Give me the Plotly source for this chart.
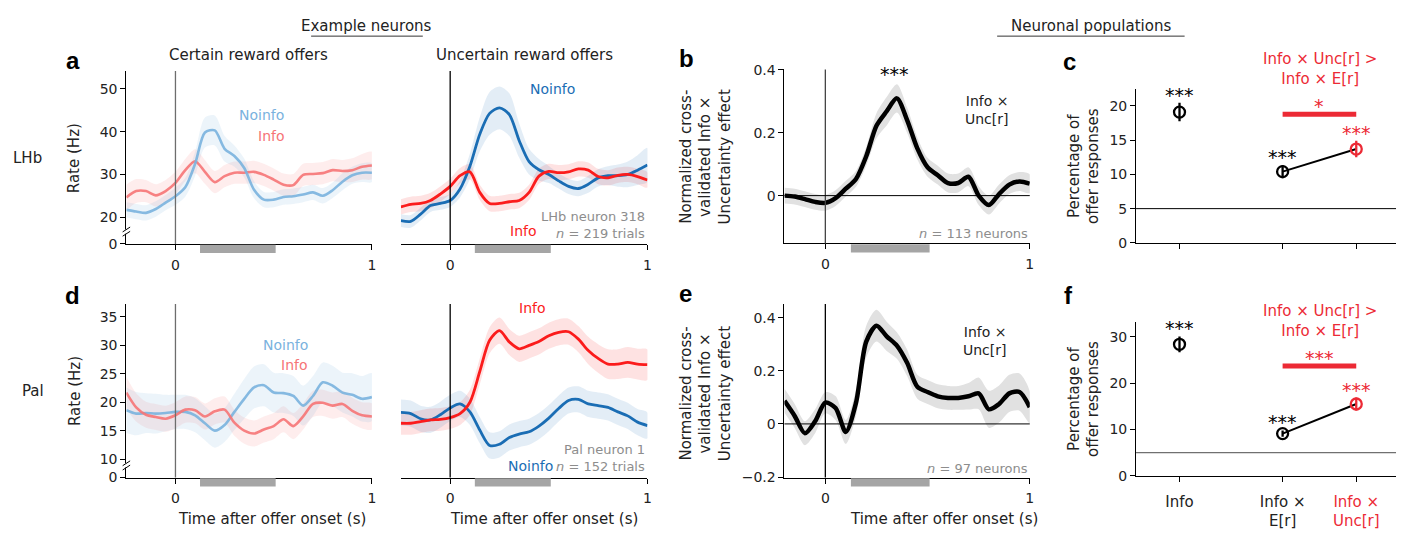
import plotly.graph_objects as go

W, H = 1406, 536
FONT = "DejaVu Sans"

# ---------------- data ----------------
TIME = [-0.25, -0.2, -0.15, -0.1, -0.05, 0.0, 0.05, 0.1, 0.15, 0.2, 0.25, 0.3, 0.35,
        0.4, 0.45, 0.5, 0.55, 0.6, 0.65, 0.7, 0.75, 0.8, 0.85, 0.9, 0.95, 1.0]
TIME_POP = [-0.2, -0.15, -0.1, -0.05, 0.0, 0.05, 0.1, 0.15, 0.2, 0.25, 0.3, 0.35,
            0.4, 0.45, 0.5, 0.55, 0.6, 0.65, 0.7, 0.75, 0.8, 0.85, 0.9, 0.95, 1.0]

# LHb neuron 318, certain reward offers
lhb_cert_noinfo = [21.7, 21.3, 21.0, 21.9, 23.4, 24.9, 27.0, 32.5, 39.8, 40.3, 36.0, 34.3, 31.5,
                   26.4, 24.1, 24.1, 24.7, 24.9, 25.3, 25.8, 25.0, 26.3, 28.3, 29.8, 30.4, 30.4]
lhb_cert_noinfo_sem = [1.8, 1.8, 1.8, 1.8, 1.8, 2.0, 2.2, 2.8, 3.5, 3.5, 3.0, 2.5, 2.2,
                       2.0, 1.8, 1.8, 1.8, 1.8, 1.8, 1.8, 1.8, 1.8, 2.0, 2.0, 2.2, 2.2]
lhb_cert_info = [24.6, 26.1, 26.1, 25.1, 26.1, 28.0, 31.0, 33.1, 30.6, 28.2, 29.6, 30.4, 30.4,
                 30.6, 29.9, 28.8, 27.6, 27.5, 29.9, 30.1, 30.3, 31.0, 30.8, 31.0, 31.8, 32.1]
lhb_cert_info_sem = [3.0, 2.8, 2.6, 2.6, 2.6, 2.6, 2.6, 2.8, 2.8, 2.6, 2.6, 2.6, 2.6,
                     2.6, 2.6, 2.6, 2.6, 2.6, 2.6, 2.6, 2.6, 2.6, 2.6, 2.8, 3.0, 3.2]

# LHb neuron 318, uncertain reward offers
lhb_unc_noinfo = [19.2, 19.0, 20.7, 22.7, 23.2, 23.9, 26.6, 31.9, 39.4, 44.3, 45.6, 44.0, 37.9,
                  33.0, 31.1, 30.0, 28.5, 27.2, 26.7, 27.7, 29.2, 29.7, 29.7, 30.0, 31.0, 32.2]
lhb_unc_noinfo_sem = [1.5, 1.5, 1.5, 1.5, 1.5, 1.5, 2.0, 3.0, 4.0, 5.0, 5.0, 5.0, 4.0,
                      3.0, 2.5, 2.0, 1.8, 1.8, 1.8, 2.0, 2.0, 2.2, 2.6, 3.0, 3.5, 4.0]
lhb_unc_info = [22.4, 23.0, 23.2, 23.9, 25.4, 27.2, 29.7, 30.6, 25.8, 23.2, 23.2, 23.6, 23.9,
                25.8, 29.6, 30.7, 30.4, 30.6, 31.3, 31.0, 29.5, 29.2, 29.8, 30.0, 29.5, 28.7]
lhb_unc_info_sem = [1.8] * 26

# LHb population (Info x Unc[r])
lhb_pop = [0.0, -0.003, -0.011, -0.02, -0.023, -0.008, 0.022, 0.053, 0.125, 0.222, 0.268, 0.309,
           0.24, 0.15, 0.09, 0.065, 0.04, 0.04, 0.06, 0.0, -0.03, 0.005, 0.035, 0.045, 0.038]
lhb_pop_sem = [0.025, 0.025, 0.025, 0.025, 0.025, 0.025, 0.025, 0.025, 0.03, 0.04, 0.045, 0.045,
               0.04, 0.035, 0.03, 0.03, 0.03, 0.03, 0.03, 0.03, 0.03, 0.03, 0.03, 0.03, 0.03]

# Pal neuron 1, certain reward offers
pal_cert_noinfo = [18.6, 18.0, 18.1, 18.0, 18.1, 18.3, 18.3, 17.7, 16.3, 15.0, 16.0, 18.3, 20.6,
                   22.6, 23.0, 21.7, 21.6, 21.1, 19.4, 21.1, 23.5, 22.9, 21.7, 21.3, 20.6, 20.9]
pal_cert_noinfo_sem = [4.0, 3.8, 3.5, 3.5, 3.2, 3.0, 3.0, 3.0, 3.0, 3.0, 3.0, 3.2, 3.5,
                       3.7, 3.7, 3.5, 3.5, 3.5, 3.5, 3.5, 3.5, 3.5, 3.5, 3.8, 4.0, 4.2]
pal_cert_info = [21.7, 19.1, 17.8, 17.4, 17.1, 17.7, 18.7, 18.6, 17.5, 18.4, 18.7, 16.4, 15.0,
                 14.5, 15.2, 15.8, 17.0, 15.8, 17.5, 19.7, 19.9, 19.4, 19.7, 18.5, 17.7, 17.5]
pal_cert_info_sem = [2.8, 2.5, 2.3, 2.3, 2.3, 2.3, 2.3, 2.3, 2.3, 2.3, 2.3, 2.3, 2.3,
                     2.3, 2.3, 2.3, 2.3, 2.3, 2.3, 2.3, 2.3, 2.3, 2.3, 2.3, 2.3, 2.3]

# Pal neuron 1, uncertain reward offers
pal_unc_info = [16.3, 16.3, 16.6, 16.9, 17.0, 17.3, 18.0, 20.0, 25.4, 30.9, 32.6, 30.6, 29.4,
                30.0, 30.7, 31.7, 32.3, 32.4, 31.1, 29.1, 27.7, 26.7, 26.7, 27.0, 26.7, 26.6]
pal_unc_info_sem = [2.0, 2.0, 2.0, 2.0, 2.0, 2.0, 2.0, 2.2, 2.3, 2.3, 2.3, 2.3, 2.3,
                    2.3, 2.3, 2.3, 2.3, 2.3, 2.3, 2.4, 2.5, 2.6, 2.6, 2.7, 2.7, 2.7]
pal_unc_noinfo = [18.2, 18.0, 17.1, 16.9, 17.8, 19.0, 19.7, 18.3, 15.1, 12.4, 12.6, 13.8, 14.4,
                  14.8, 15.8, 17.2, 18.9, 20.3, 20.5, 19.7, 19.4, 19.1, 18.3, 17.6, 16.5, 15.9]
pal_unc_noinfo_sem = [2.3] * 26

# Pal population (Info x Unc[r])
pal_pop = [0.087, 0.03, -0.035, 0.01, 0.08, 0.06, -0.03, 0.08, 0.31, 0.37, 0.33, 0.295,
           0.23, 0.14, 0.12, 0.104, 0.098, 0.098, 0.104, 0.115, 0.055, 0.075, 0.115, 0.12, 0.063]
pal_pop_sem = [0.045, 0.045, 0.045, 0.045, 0.04, 0.045, 0.045, 0.05, 0.06, 0.06, 0.055, 0.05,
               0.05, 0.045, 0.045, 0.045, 0.045, 0.045, 0.05, 0.06, 0.07, 0.07, 0.07, 0.07, 0.06]

# Percentages of offer responses
CATEGORIES = ["Info", "Info ×<br>E[r]", "Info ×<br>Unc[r]"]
lhb_pct = [19.1, 10.4, 13.7]
lhb_pct_err = [1.35, 0.95, 1.2]
pal_pct = [28.4, 9.1, 15.5]
pal_pct_err = [1.7, 0.7, 1.4]
CHANCE = 5
EPOCH = [0.125, 0.51]

# ---------------- styles ----------------
LBLUE, LRED = "rgba(122,178,222,0.9)", "rgba(246,116,118,0.9)"
LBLUE_B, LRED_B = "rgba(122,178,222,0.14)", "rgba(246,116,118,0.13)"
DBLUE, RED = "#1a6db4", "#fb1c1c"
DBLUE_B, RED_B = "rgba(26,109,180,0.12)", "rgba(251,28,28,0.13)"
SIGRED = "#ec2a35"
GRAYTXT = "#8d8d8d"
CAT_POS = [0, 1.4, 2.4]
TS = 15      # title size
TK = 14      # tick size
AS = 14      # annotation size
NS = 13      # neuron-count text size
ST = 19      # star size


def px(x):
    return x / W


def py(y):
    return 1 - y / H


fig = go.Figure()


def band(t, m, s, fill, ax):
    up = [a + b for a, b in zip(m, s)]
    lo = [a - b for a, b in zip(m, s)]
    fig.add_trace(go.Scatter(x=t + t[::-1], y=up + lo[::-1], fill="toself", fillcolor=fill,
                             line=dict(width=0, shape="spline", smoothing=0.8), mode="lines",
                             hoverinfo="skip", showlegend=False, xaxis="x" + ax, yaxis="y" + ax))


def line(t, m, color, width, ax):
    fig.add_trace(go.Scatter(x=t, y=m, mode="lines",
                             line=dict(color=color, width=width, shape="spline", smoothing=0.8),
                             showlegend=False, xaxis="x" + ax, yaxis="y" + ax))


# panel a
band(TIME, lhb_cert_info, lhb_cert_info_sem, LRED_B, "")
band(TIME, lhb_cert_noinfo, lhb_cert_noinfo_sem, LBLUE_B, "")
line(TIME, lhb_cert_info, LRED, 2.6, "")
line(TIME, lhb_cert_noinfo, LBLUE, 2.6, "")
band(TIME, lhb_unc_info, lhb_unc_info_sem, RED_B, "2")
band(TIME, lhb_unc_noinfo, lhb_unc_noinfo_sem, DBLUE_B, "2")
line(TIME, lhb_unc_noinfo, DBLUE, 2.8, "2")
line(TIME, lhb_unc_info, RED, 2.8, "2")
# panel b
band(TIME_POP, lhb_pop, lhb_pop_sem, "#e1e1e1", "3")
line(TIME_POP, lhb_pop, "black", 4.5, "3")
# panel d
band(TIME, pal_cert_info, pal_cert_info_sem, LRED_B, "5")
band(TIME, pal_cert_noinfo, pal_cert_noinfo_sem, LBLUE_B, "5")
line(TIME, pal_cert_noinfo, LBLUE, 2.6, "5")
line(TIME, pal_cert_info, LRED, 2.6, "5")
band(TIME, pal_unc_info, pal_unc_info_sem, RED_B, "6")
band(TIME, pal_unc_noinfo, pal_unc_noinfo_sem, DBLUE_B, "6")
line(TIME, pal_unc_noinfo, DBLUE, 2.8, "6")
line(TIME, pal_unc_info, RED, 2.8, "6")
# panel e
band(TIME_POP, pal_pop, pal_pop_sem, "#e1e1e1", "7")
line(TIME_POP, pal_pop, "black", 4.5, "7")


def pct_panel(vals, errs, sig_y, ax):
    fig.add_trace(go.Scatter(x=[CAT_POS[1], CAT_POS[2]], y=[sig_y, sig_y], mode="lines",
                             line=dict(color=SIGRED, width=5), showlegend=False,
                             xaxis="x" + ax, yaxis="y" + ax))
    fig.add_trace(go.Scatter(x=CAT_POS[1:], y=vals[1:], mode="lines",
                             line=dict(color="black", width=2), showlegend=False,
                             xaxis="x" + ax, yaxis="y" + ax))
    cols = ["black", "black", SIGRED]
    for i in range(3):
        fig.add_trace(go.Scatter(x=[CAT_POS[i]], y=[vals[i]], mode="markers",
                                 marker=dict(symbol="circle-open", size=11, color=cols[i],
                                             line=dict(width=2.3, color=cols[i])),
                                 error_y=dict(type="data", array=[errs[i]], color=cols[i],
                                              thickness=2.3, width=0),
                                 showlegend=False, xaxis="x" + ax, yaxis="y" + ax))


pct_panel(lhb_pct, lhb_pct_err, 18.8, "4")
pct_panel(pal_pct, pal_pct_err, 23.7, "8")

# ---------------- axes ----------------
TICKF = dict(family=FONT, size=TK, color="#222")
common = dict(showgrid=False, zeroline=False, showline=True, linecolor="black", linewidth=1,
              ticks="outside", ticklen=5, tickwidth=1, tickcolor="black", tickfont=TICKF)

ROW1 = [py(243.3), py(65)]
ROW2 = [py(484), py(305)]
XA_L = [px(126.7), px(373)]
XA_R = [px(402), px(649.3)]
XB = [px(786.7), px(1032.7)]
XC = [px(1139.3), px(1400)]

lay = {}


def set_axes(n, xdom, ydom, xr, yr, xkw=None, ykw=None):
    s = "" if n == 1 else str(n)
    xa = dict(common, domain=xdom, range=xr, anchor="y" + s)
    ya = dict(common, domain=ydom, range=yr, anchor="x" + s)
    xa.update(xkw or {})
    ya.update(ykw or {})
    lay["xaxis" + s] = xa
    lay["yaxis" + s] = ya


time_x = dict(tickvals=[0, 1], ticktext=["0", "1"], ticklabelstandoff=3)
set_axes(1, XA_L, ROW1, [-0.25, 1.0], [13.7, 54.2], time_x,
         dict(tickvals=[13.72, 20, 30, 40, 50], ticktext=["0", "20", "30", "40", "50"]))
set_axes(2, XA_R, ROW1, [-0.25, 1.0], [13.7, 54.2], time_x, dict(visible=False))
set_axes(3, XB, [py(242.7), py(63.3)], [-0.2, 1.0], [-0.152, 0.401], time_x,
         dict(tickvals=[0, 0.2, 0.4], ticktext=["0", "0.2", "0.4"]))
set_axes(4, XC, [py(242.3), py(83.3)], [-0.59, 2.94], [-0.03, 22.5],
         dict(tickvals=CAT_POS, showticklabels=False),
         dict(tickvals=[0, 5, 10, 15, 20]))
set_axes(5, XA_L, ROW2, [-0.25, 1.0], [6.75, 37.3], time_x,
         dict(tickvals=[6.77, 10, 15, 20, 25, 30, 35],
              ticktext=["0", "10", "15", "20", "25", "30", "35"]))
set_axes(6, XA_R, ROW2, [-0.25, 1.0], [6.75, 37.3], time_x, dict(visible=False))
set_axes(7, XB, ROW2, [-0.2, 1.0], [-0.202, 0.452], time_x,
         dict(tickvals=[-0.2, 0, 0.2, 0.4], ticktext=["−0.2", "0", "0.2", "0.4"]))
cat_text = [CATEGORIES[0], CATEGORIES[1],
            "<span style='color:%s'>Info ×</span><br><span style='color:%s'>Unc[r]</span>" % (SIGRED, SIGRED)]
set_axes(8, XC, [py(482.3), py(323.3)], [-0.59, 2.94], [-0.04, 33.3],
         dict(tickvals=CAT_POS, ticktext=cat_text, ticklabelstandoff=7,
              tickfont=dict(family=FONT, size=TS, color="#222")),
         dict(tickvals=[0, 10, 20, 30]))

# ---------------- shapes ----------------
shapes = []
for s, col in [("", "#6d6d6d"), ("2", "black"), ("3", "#444"), ("5", "#6d6d6d"), ("6", "black"), ("7", "black")]:
    xr = "x" + s
    yr = "y" + s
    shapes.append(dict(type="line", xref=xr, yref=yr + " domain", x0=0, x1=0, y0=0, y1=1,
                       line=dict(color=col, width=1.3)))
    shapes.append(dict(type="rect", xref=xr, yref=yr + " domain", x0=EPOCH[0], x1=EPOCH[1],
                       y0=-0.052, y1=-0.004, fillcolor="#a5a5a5", line=dict(width=0)))
for s in ["3", "7"]:
    shapes.append(dict(type="line", xref="x" + s + " domain", yref="y" + s, x0=0, x1=1, y0=0, y1=0,
                       line=dict(color="black", width=1)))
shapes.append(dict(type="line", xref="x4 domain", yref="y4", x0=0, x1=1, y0=CHANCE, y1=CHANCE,
                   line=dict(color="black", width=1)))
shapes.append(dict(type="line", xref="x8 domain", yref="y8", x0=0, x1=1, y0=CHANCE, y1=CHANCE,
                   line=dict(color="#707070", width=1.2)))
# axis break marks
for yb in [230.5, 471.5]:
    shapes.append(dict(type="rect", xref="paper", yref="paper", x0=px(125), x1=px(128.5),
                       y0=py(yb + 2.2), y1=py(yb - 2.2), fillcolor="white", line=dict(width=0)))
    for dy in (-2.2, 2.2):
        shapes.append(dict(type="line", xref="paper", yref="paper", x0=px(123), x1=px(130.5),
                           y0=py(yb + dy + 2.5), y1=py(yb + dy - 2.5), line=dict(color="black", width=1)))
# header underlines
shapes.append(dict(type="line", xref="paper", yref="paper", x0=px(312), x1=px(424), y0=py(29), y1=py(29),
                   line=dict(color="#333", width=1)))
shapes.append(dict(type="line", xref="paper", yref="paper", x0=px(1000), x1=px(1188), y0=py(29), y1=py(29),
                   line=dict(color="#333", width=1)))

# ---------------- annotations ----------------
ann = []


def T(text, x, y, size=AS, color="#222", xref="paper", yref="paper", xanchor="center",
      yanchor="middle", angle=0, align="center", family=FONT, yshift=0):
    if xref == "paper":
        x = px(x)
    if yref == "paper":
        y = py(y)
    ann.append(dict(text=text, x=x, y=y, xref=xref, yref=yref, xanchor=xanchor, yanchor=yanchor,
                    showarrow=False, textangle=angle, align=align, yshift=yshift,
                    font=dict(family=family, size=size, color=color)))


T("Example neurons", 368, 19, TS)
T("Neuronal populations", 1094, 19, TS)
T("Certain reward offers", 249, 48, TS)
T("Uncertain reward offers", 526, 48, TS)
for lab, x, y in [("a", 73, 54), ("b", 688, 52), ("c", 1073, 55), ("d", 73, 296), ("e", 687, 294), ("f", 1072, 296)]:
    T("<b>%s</b>" % lab, x, y, 24, "black", family="Liberation Sans")
T("LHb", 28, 155, TS)
T("Pal", 33, 395, TS)
T("Rate (Hz)", 75, 155, TS, angle=-90)
T("Rate (Hz)", 75, 395, TS, angle=-90)
T("Normalized cross-<br>validated Info ×<br>Uncertainty effect", 707, 153, TS, angle=-90)
T("Normalized cross-<br>validated Info ×<br>Uncertainty effect", 707, 397, TS, angle=-90)
T("Percentage of<br>offer responses", 1087, 163, TS, angle=-90)
T("Percentage of<br>offer responses", 1087, 403, TS, angle=-90)
T("Time after offer onset (s)", 273, 527, TS)
T("Time after offer onset (s)", 546, 527, TS)
T("Time after offer onset (s)", 947, 527, TS)

# in-panel labels (data coords)
T("Noinfo", 0.44, 44.0, AS, "#7ab2de", "x", "y")
T("Info", 0.49, 38.9, AS, "#f67476", "x", "y")
T("Noinfo", 0.52, 50.0, AS, DBLUE, "x2", "y2")
T("Info", 0.37, 16.8, AS, RED, "x2", "y2")
T("LHb neuron 318", 1.0, 20.2, NS, GRAYTXT, "x2", "y2", xanchor="right")
T("<i>n</i> = 219 trials", 1.0, 16.2, NS, GRAYTXT, "x2", "y2", xanchor="right")
T("***", 0.34, 0.40, ST, "black", "x3", "y3", yshift=-4)
T("Info ×<br>Unc[r]", 0.91, 0.273, AS, "#222", "x3", "y3", xanchor="right", align="right")
T("<i>n</i> = 113 neurons", 1.0, -0.12, NS, GRAYTXT, "x3", "y3", xanchor="right")
T("Noinfo", 0.56, 30.0, AS, "#7ab2de", "x5", "y5")
T("Info", 0.605, 26.6, AS, "#f67476", "x5", "y5")
T("Info", 0.415, 36.6, AS, RED, "x6", "y6")
T("Noinfo", 0.405, 8.7, AS, DBLUE, "x6", "y6")
T("Pal neuron 1", 1.0, 11.7, NS, GRAYTXT, "x6", "y6", xanchor="right")
T("<i>n</i> = 152 trials", 1.0, 8.7, NS, GRAYTXT, "x6", "y6", xanchor="right")
T("***", 0.25, 0.475, ST, "black", "x7", "y7", yshift=-4)
T("Info ×<br>Unc[r]", 0.9, 0.313, AS, "#222", "x7", "y7", xanchor="right", align="right")
T("<i>n</i> = 97 neurons", 1.0, -0.168, NS, GRAYTXT, "x7", "y7", xanchor="right")

# percentage panels
T("Info × Unc[r] ><br>Info × E[r]", 1324, 63, TS, SIGRED)
T("Info × Unc[r] ><br>Info × E[r]", 1324, 323, TS, SIGRED)
for ax, vals, errs, sig_y, sig_txt in [("4", lhb_pct, lhb_pct_err, 18.8, "*"), ("8", pal_pct, pal_pct_err, 23.7, "***")]:
    cols = ["black", "black", SIGRED]
    for i in range(3):
        T("***", CAT_POS[i], vals[i] + errs[i], ST, cols[i], "x" + ax, "y" + ax, yanchor="bottom", yshift=-5)
    T(sig_txt, (CAT_POS[1] + CAT_POS[2]) / 2, sig_y, ST, SIGRED, "x" + ax, "y" + ax, yanchor="bottom", yshift=-5)

fig.update_layout(width=W, height=H, margin=dict(l=0, r=0, t=0, b=0),
                  paper_bgcolor="white", plot_bgcolor="white", showlegend=False,
                  font=dict(family=FONT, size=TK, color="#222"),
                  shapes=shapes, annotations=ann, **lay)

fig.write_html("out.html", config={"displayModeBar": False},
               post_script="document.body.style.margin='0';")
